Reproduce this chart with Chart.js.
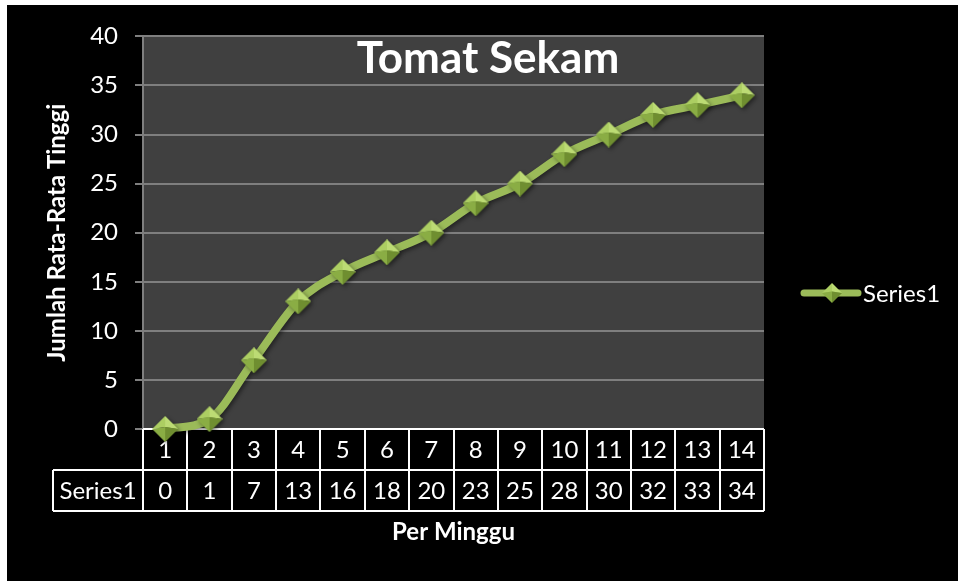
<!DOCTYPE html>
<html>
<head>
<meta charset="utf-8">
<script src="https://cdn.jsdelivr.net/npm/chart.js@4/dist/chart.umd.min.js"></script>
<style>
  html, body { margin: 0; padding: 0; background: #ffffff; width: 958px; height: 581px; overflow: hidden; }
  #wrap { position: absolute; left: 7px; top: 5px; width: 951px; height: 576px; background: #000; }
  canvas { display: block; }
</style>
</head>
<body>
<div id="wrap"><canvas id="chart" width="951" height="576"></canvas></div>
<script>
// Weekly average plant height for the "Tomat Sekam" group
const weeks = ['1', '2', '3', '4', '5', '6', '7', '8', '9', '10', '11', '12', '13', '14'];
const series1 = [0, 1, 7, 13, 16, 18, 20, 23, 25, 28, 30, 32, 33, 34];
const seriesName = 'Series1';
const yTicks = [0, 5, 10, 15, 20, 25, 30, 35, 40];
const chartTitle = 'Tomat Sekam';
const xTitle = 'Per Minggu';
const yTitle = 'Jumlah Rata-Rata Tinggi';

const FONT = 'Lato';
const LINE_COLOR = '#9bbb59';
const GRID_COLOR = '#7f7f7f';

// Faceted diamond marker (pyramid look)
function makeDiamond(size) {
  const c = document.createElement('canvas');
  c.width = size; c.height = size;
  const g = c.getContext('2d');
  const h = size / 2;
  const top = [h, 0], right = [size, h], bottom = [h, size], left = [0, h], apex = [h, h * 0.85];
  const facet = (a, b, col) => {
    g.beginPath(); g.moveTo(a[0], a[1]); g.lineTo(b[0], b[1]); g.lineTo(apex[0], apex[1]); g.closePath();
    g.fillStyle = col; g.fill();
  };
  facet(left, top, '#acce62');
  facet(top, right, '#bcdb74');
  facet(right, bottom, '#6f8e30');
  facet(bottom, left, '#8aad44');
  return c;
}
const marker = makeDiamond(26);
const legendMarker = makeDiamond(20);

const decor = {
  id: 'decor',
  beforeDraw(chart) {
    const { ctx, chartArea: a } = chart;
    ctx.save();
    ctx.fillStyle = '#000';
    ctx.fillRect(0, 0, chart.width, chart.height);
    ctx.fillStyle = '#404040';
    ctx.fillRect(a.left, a.top, a.right - a.left, a.bottom - a.top);
    ctx.restore();
  },
  beforeDatasetsDraw(chart) {
    // data table under the plot: week numbers and values
    const { ctx, chartArea: a } = chart;
    const xs = chart.scales.x;
    const n = weeks.length;
    const colW = (a.right - a.left) / n;
    const rowH = 41;
    const top = a.bottom;
    const labelLeft = 46;
    ctx.save();
    ctx.strokeStyle = '#ffffff';
    ctx.lineWidth = 2;
    ctx.beginPath();
    ctx.moveTo(a.left, top); ctx.lineTo(a.right, top);
    ctx.moveTo(labelLeft, top + rowH); ctx.lineTo(a.right, top + rowH);
    ctx.moveTo(labelLeft, top + 2 * rowH); ctx.lineTo(a.right, top + 2 * rowH);
    ctx.moveTo(labelLeft, top + rowH); ctx.lineTo(labelLeft, top + 2 * rowH);
    for (let i = 0; i <= n; i++) {
      const x = Math.round(a.left + i * colW);
      ctx.moveTo(x, top); ctx.lineTo(x, top + 2 * rowH);
    }
    ctx.stroke();
    ctx.fillStyle = '#ffffff';
    ctx.font = '24px ' + FONT;
    ctx.textAlign = 'center';
    ctx.textBaseline = 'middle';
    weeks.forEach((w, i) => {
      const x = xs.getPixelForValue(i);
      ctx.fillText(w, x, top + rowH / 2 + 1);
      ctx.fillText(String(series1[i]), x, top + rowH * 1.5 + 1);
    });
    ctx.fillText(seriesName, (labelLeft + a.left) / 2, top + rowH * 1.5 + 1);
    ctx.restore();
  },
  beforeDatasetDraw(chart) {
    const ctx = chart.ctx;
    ctx.save();
    ctx.shadowColor = 'rgba(0,0,0,0.45)';
    ctx.shadowBlur = 4;
    ctx.shadowOffsetX = 2;
    ctx.shadowOffsetY = 2;
  },
  afterDatasetDraw(chart) {
    chart.ctx.restore();
  },
  afterDraw(chart) {
    const { ctx } = chart;
    ctx.save();
    // chart title inside the plot area
    ctx.fillStyle = '#ffffff';
    ctx.font = 'bold 44px ' + FONT;
    ctx.textAlign = 'center';
    ctx.textBaseline = 'alphabetic';
    ctx.fillText(chartTitle, 481, 68);
    // legend
    const ly = 288;
    ctx.strokeStyle = LINE_COLOR;
    ctx.lineWidth = 7;
    ctx.lineCap = 'round';
    ctx.beginPath();
    ctx.moveTo(797, ly); ctx.lineTo(851, ly);
    ctx.stroke();
    ctx.drawImage(legendMarker, 825 - 10, ly - 10, 20, 20);
    ctx.font = '24px ' + FONT;
    ctx.textAlign = 'left';
    ctx.textBaseline = 'middle';
    ctx.fillText(seriesName, 856, ly + 1);
    ctx.restore();
  }
};

function build() {
  new Chart(document.getElementById('chart'), {
    type: 'line',
    data: {
      labels: weeks,
      datasets: [{
        label: seriesName,
        data: series1,
        borderColor: LINE_COLOR,
        borderWidth: 8,
        cubicInterpolationMode: 'monotone',
        pointStyle: marker,
        pointRadius: 13,
        pointHoverRadius: 13,
        clip: false
      }]
    },
    options: {
      responsive: false,
      animation: false,
      events: [],
      layout: { padding: { left: 0, right: 194, top: 30, bottom: 0 } },
      plugins: {
        legend: { display: false },
        tooltip: { enabled: false },
        title: { display: false }
      },
      scales: {
        x: {
          type: 'category',
          offset: true,
          grid: { display: false },
          border: { display: false },
          ticks: { display: false },
          title: {
            display: true, text: xTitle, color: '#ffffff',
            font: { family: FONT, size: 24, weight: 'bold' },
            padding: { top: 0, bottom: 34 }
          },
          afterFit(s) { s.height = 152; }
        },
        y: {
          min: 0, max: 40,
          afterBuildTicks(s) { s.ticks = yTicks.map(v => ({ value: v })); },
          grid: { color: GRID_COLOR, lineWidth: 2, tickLength: 8, drawTicks: true },
          border: { display: true, color: GRID_COLOR, width: 2 },
          ticks: {
            color: '#ffffff', padding: 17,
            font: { family: FONT, size: 24 }
          },
          title: {
            display: true, text: yTitle, color: '#ffffff',
            font: { family: FONT, size: 24, weight: 'bold' },
            padding: { top: 36, bottom: 0 }
          },
          afterFit(s) { s.width = 136; }
        }
      }
    },
    plugins: [decor]
  });
}

const fontsReady = document.fonts
  ? Promise.all([
      document.fonts.load('24px ' + FONT),
      document.fonts.load('bold 24px ' + FONT)
    ]).catch(() => {})
  : Promise.resolve();
fontsReady.then(build, build);
</script>
</body>
</html>
